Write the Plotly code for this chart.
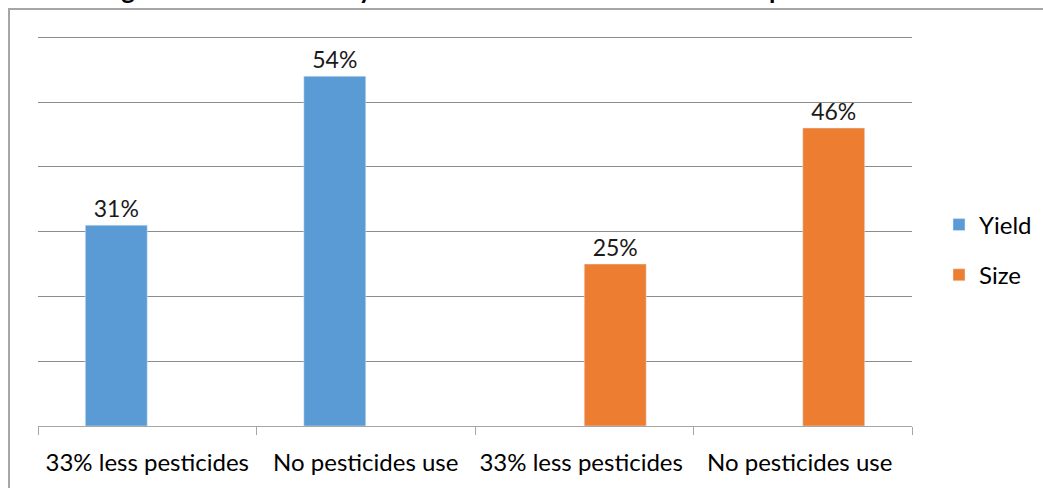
import plotly.graph_objects as go

categories = ["33% less pesticides", "No pesticides use", "33% less pesticides ", "No pesticides use "]
yield_vals = [31, 54, None, None]
size_vals = [None, None, 25, 46]
yield_labels = ["31%", "54%", "", ""]
size_labels = ["", "", "25%", "46%"]
title_text = "Figure 4: Reduction in yield and size with 33% less and no pesticides use"

W, H = 1043, 488
L, R, T, B = 38, 912, 36, 426
YMAX = 60.2

def px(x):
    return (x - L) / (R - L)

def py(y):
    return (B - y) / (B - T)

FONT = "Lato"
fig = go.Figure()
fig.add_trace(go.Bar(x=categories, y=yield_vals, name="Yield", marker_color="#5B9BD5",
                     text=yield_labels, textposition="outside", cliponaxis=False,
                     textfont=dict(size=23, color="#1A1A1A", family=FONT),
                     legendgroup="a"))
fig.add_trace(go.Bar(x=categories, y=size_vals, name="Size", marker_color="#ED7D31",
                     text=size_labels, textposition="outside", cliponaxis=False,
                     textfont=dict(size=23, color="#1A1A1A", family=FONT),
                     legendgroup="b"))

fig.update_layout(
    width=W, height=H,
    margin=dict(l=L, r=W - R, t=T, b=H - B, pad=0, autoexpand=False),
    paper_bgcolor="white", plot_bgcolor="white",
    barmode="group", bargap=0.433, bargroupgap=0,
    font=dict(family=FONT, color="#000000"),
    showlegend=True,
    legend=dict(x=px(939), y=py(250), xanchor="left", yanchor="middle",
                font=dict(size=24, family=FONT, color="#000000"),
                traceorder="grouped", tracegroupgap=16, itemwidth=30,
                bgcolor="rgba(0,0,0,0)"),
    xaxis=dict(showline=True, linecolor="#A6A6A6", linewidth=1,
               ticks="outside", ticklen=8, tickcolor="#A6A6A6", tickson="boundaries",
               tickangle=0,
               tickfont=dict(size=24, family=FONT, color="#000000"),
               ticklabelstandoff=15, showgrid=False),
    yaxis=dict(range=[0, YMAX], tickvals=[10, 20, 30, 40, 50, 60], showticklabels=False, showgrid=True,
               gridcolor="#8C8C8C", gridwidth=1, zeroline=False, showline=False),
)

fig.add_shape(type="rect", xref="paper", yref="paper",
              x0=px(9), x1=px(1070), y0=py(510), y1=py(9),
              line=dict(color="#A6A6A6", width=2), fillcolor="rgba(0,0,0,0)", layer="below")

fig.add_annotation(text="<b>" + title_text + "</b>", xref="paper", yref="paper",
                   x=px(515), y=py(7), xanchor="center", yanchor="bottom",
                   showarrow=False, font=dict(size=26, family=FONT, color="#000000"))

fig.write_html("out.html", config={"displayModeBar": False},
               post_script="document.body.style.margin='0px';")
